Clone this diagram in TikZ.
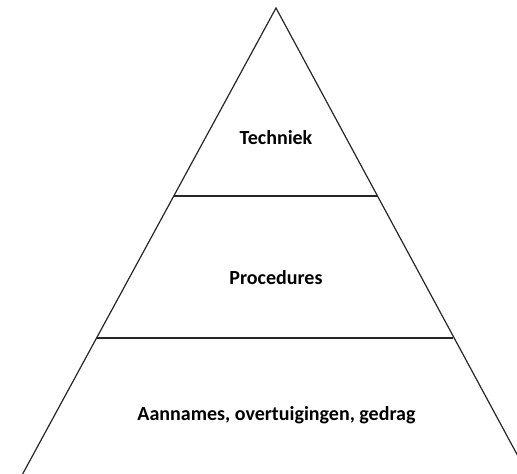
\documentclass[tikz,border=0pt]{standalone}
\usepackage{fontspec}
\setmainfont{Carlito}
\begin{document}
\begin{tikzpicture}[x=1pt,y=-1pt,
  edge/.style={line width=1.2pt,draw=black!85},
  lbl/.style={font=\bfseries\fontsize{20}{24}\selectfont,text=black,inner sep=0pt}]
\useasboundingbox (0,0) rectangle (517,474);
\clip (0,0) rectangle (517,474);
\coordinate (apex) at (276,8);
\coordinate (bl) at (-10,534);
\coordinate (br) at (560,534);
\coordinate (l1) at (174,196);
\coordinate (r1) at (377,196);
\coordinate (l2) at (97,338);
\coordinate (r2) at (453,338);
\draw[edge] (bl) -- (apex) -- (br);
\draw[edge] (l1) -- (r1);
\draw[edge] (l2) -- (r2);
\node[lbl] (t1) at (276,138) {Techniek};
\node[lbl] (t2) at (276,278) {Procedures};
\node[lbl] (t3) at (276.5,415) {Aannames, overtuigingen, gedrag};
\end{tikzpicture}
\end{document}
